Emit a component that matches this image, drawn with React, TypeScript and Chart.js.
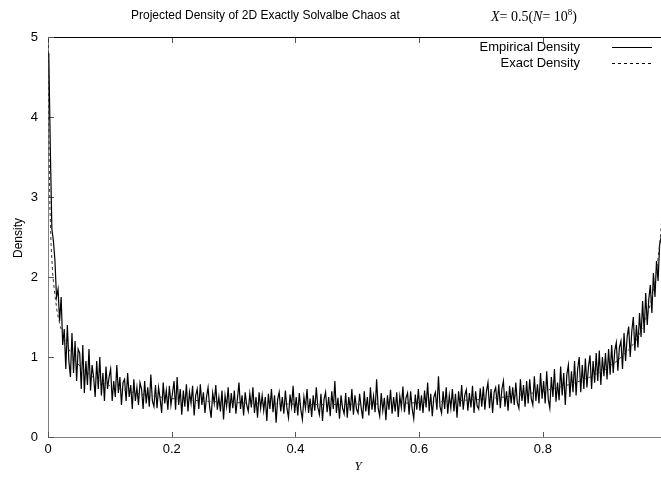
import { useEffect, useRef } from 'react';
import { Chart, registerables } from 'chart.js';

Chart.register(...registerables);

const SANS = '"Liberation Sans", Arial, Helvetica, sans-serif';
const SERIF = '"Liberation Serif", "Times New Roman", serif';

const TITLE_TEXT = 'Projected Density of 2D Exactly Solvalbe Chaos at';
const Y_TITLE = 'Density';
const X_TITLE = 'Y';
const LEGEND_LABELS = ['Empirical Density', 'Exact Density'];

const X_TICKS = [0, 0.2, 0.4, 0.6, 0.8];
const X_TICK_LABELS = ['0', '0.2', '0.4', '0.6', '0.8'];
const Y_TICKS = [0, 1, 2, 3, 4, 5];
const Y_TICK_LABELS = ['0', '1', '2', '3', '4', '5'];

const X_MIN = 0;
const X_MAX = 0.991;
const Y_MIN = 0;
const Y_MAX = 5;

// histogram bin width of the empirical density
const BIN_WIDTH = 0.0025;

const empiricalDensity = [
  4.8, 3.6, 2.6, 2.45, 2.2, 1.75, 1.85, 1.45, 1.75, 1.15,
  1.35, 0.85, 1.4, 0.95, 0.75, 1.3, 0.8, 1.2, 0.7, 1.1,
  1.05, 0.6, 1.15, 0.55, 0.95, 0.65, 1.1, 0.58, 0.9, 0.75,
  0.5, 0.95, 0.6, 1.0, 0.52, 0.8, 0.45, 0.88, 0.6, 0.75,
  0.85, 0.45, 0.7, 0.5, 0.9, 0.55, 0.75, 0.4, 0.68, 0.72,
  0.45, 0.8, 0.5, 0.65, 0.35, 0.72, 0.45, 0.62, 0.4, 0.68,
  0.6, 0.35, 0.7, 0.42, 0.62, 0.38, 0.78, 0.45, 0.38, 0.65,
  0.36, 0.62, 0.48, 0.3, 0.68, 0.42, 0.58, 0.34, 0.64, 0.4,
  0.55, 0.7, 0.34, 0.75, 0.4, 0.6, 0.28, 0.58, 0.38, 0.66,
  0.32, 0.56, 0.42, 0.64, 0.27, 0.52, 0.6, 0.35, 0.66, 0.4,
  0.56, 0.3, 0.5, 0.62, 0.38, 0.24, 0.55, 0.42, 0.65, 0.34,
  0.5, 0.32, 0.58, 0.22, 0.52, 0.38, 0.62, 0.3, 0.55, 0.36,
  0.58, 0.29, 0.48, 0.68, 0.35, 0.52, 0.27, 0.56, 0.4, 0.32,
  0.54, 0.37, 0.62, 0.3, 0.5, 0.24, 0.56, 0.36, 0.52, 0.33,
  0.5, 0.2, 0.54, 0.35, 0.6, 0.31, 0.52, 0.18, 0.47, 0.56,
  0.32, 0.5, 0.29, 0.58, 0.36, 0.24, 0.53, 0.38, 0.64, 0.3,
  0.5, 0.27, 0.55, 0.34, 0.22, 0.5, 0.36, 0.6, 0.3, 0.48,
  0.25, 0.52, 0.33, 0.62, 0.37, 0.28, 0.54, 0.2, 0.47, 0.56,
  0.31, 0.5, 0.26, 0.57, 0.35, 0.7, 0.3, 0.49, 0.23, 0.52,
  0.36, 0.29, 0.55, 0.24, 0.5, 0.33, 0.6, 0.28, 0.52, 0.35,
  0.3, 0.54, 0.37, 0.23, 0.57, 0.32, 0.5, 0.27, 0.62, 0.34,
  0.51, 0.31, 0.72, 0.36, 0.26, 0.55, 0.33, 0.49, 0.21, 0.52,
  0.34, 0.59, 0.29, 0.5, 0.32, 0.56, 0.25, 0.51, 0.37, 0.63,
  0.31, 0.49, 0.55, 0.28, 0.57, 0.35, 0.23, 0.53, 0.34, 0.6,
  0.33, 0.52, 0.3, 0.58, 0.37, 0.68, 0.32, 0.54, 0.26, 0.5,
  0.56, 0.34, 0.76, 0.38, 0.3, 0.57, 0.35, 0.62, 0.29, 0.52,
  0.36, 0.6, 0.32, 0.54, 0.24, 0.57, 0.38, 0.65, 0.34, 0.52,
  0.59, 0.33, 0.55, 0.37, 0.64, 0.3, 0.57, 0.39, 0.35, 0.61,
  0.38, 0.63, 0.34, 0.57, 0.68, 0.36, 0.6, 0.3, 0.56, 0.62,
  0.4, 0.66, 0.36, 0.6, 0.7, 0.38, 0.57, 0.33, 0.64, 0.42,
  0.62, 0.4, 0.68, 0.43, 0.36, 0.72, 0.45, 0.65, 0.38, 0.7,
  0.42, 0.72, 0.48, 0.4, 0.76, 0.45, 0.66, 0.42, 0.8, 0.48,
  0.7, 0.42, 0.82, 0.47, 0.36, 0.75, 0.5, 0.85, 0.44, 0.68,
  0.46, 0.88, 0.52, 0.8, 0.4, 0.78, 0.9, 0.5, 0.82, 0.56,
  0.95, 0.52, 0.85, 1.0, 0.56, 0.9, 0.6, 0.98, 0.62, 0.88,
  1.02, 0.6, 0.95, 0.68, 1.05, 0.7, 1.08, 0.65, 1.0, 0.76,
  1.05, 0.72, 1.1, 0.78, 1.15, 0.8, 1.08, 1.18, 0.83, 1.12,
  1.2, 0.85, 1.3, 0.95, 1.25, 1.38, 1.0, 1.32, 1.5, 1.08,
  1.4, 1.12, 1.55, 1.25, 1.7, 1.3, 1.8, 1.4, 1.72, 1.9,
  1.55, 2.05, 1.75, 2.2, 1.95, 2.4, 2.5,
];

const exactX = [
  0.0005, 0.001, 0.002, 0.003, 0.005, 0.0075, 0.01, 0.015, 0.02, 0.03,
  0.04, 0.05, 0.07, 0.1, 0.13, 0.16, 0.2, 0.25, 0.3, 0.35,
  0.4, 0.45, 0.5, 0.55, 0.6, 0.65, 0.7, 0.75, 0.8, 0.85,
  0.88, 0.9, 0.92, 0.94, 0.95, 0.96, 0.97, 0.975, 0.98, 0.985,
  0.99, 0.993,
];
const exactDensity = [
  5.2, 4.3, 3.4, 2.9, 2.4, 2.05, 1.85, 1.55, 1.38, 1.15,
  1.0, 0.9, 0.76, 0.64, 0.57, 0.52, 0.48, 0.45, 0.43, 0.42,
  0.41, 0.405, 0.41, 0.415, 0.43, 0.45, 0.47, 0.51, 0.57, 0.67,
  0.76, 0.84, 0.95, 1.1, 1.2, 1.35, 1.55, 1.7, 1.88, 2.15,
  2.5, 2.8,
];

type Run = { text: string; font: string; dy?: number };

function drawRuns(ctx: CanvasRenderingContext2D, x: number, y: number, runs: Run[]) {
  let cx = x;
  ctx.textAlign = 'left';
  ctx.textBaseline = 'alphabetic';
  for (const r of runs) {
    ctx.font = r.font;
    ctx.fillText(r.text, cx, y + (r.dy || 0));
    cx += ctx.measureText(r.text).width;
  }
}

const framePlugin = {
  id: 'gnuFrame',
  beforeDatasetsDraw(chart: any) {
    const { ctx, chartArea: a, scales } = chart;
    const xs = scales.x;
    const ys = scales.y;
    ctx.save();
    ctx.fillStyle = '#808080';
    ctx.fillRect(a.left, a.top, 1, a.bottom - a.top + 1);
    ctx.fillRect(a.left, a.bottom, a.right - a.left, 1);
    ctx.fillStyle = '#000';
    ctx.fillRect(a.left, a.top, a.right - a.left, 1);
    ctx.fillStyle = '#555';
    Y_TICKS.forEach((v) => {
      const py = Math.round(ys.getPixelForValue(v));
      ctx.fillRect(a.left, py, 6, 1);
    });
    X_TICKS.forEach((v) => {
      const px = Math.round(xs.getPixelForValue(v));
      ctx.fillRect(px, a.bottom - 5, 1, 5);
      ctx.fillRect(px, a.top + 1, 1, 5);
    });
    ctx.restore();
  },
  afterDraw(chart: any) {
    const { ctx } = chart;
    ctx.save();
    ctx.fillStyle = '#000';
    // title
    drawRuns(ctx, 131, 19, [{ text: TITLE_TEXT, font: `12px ${SANS}` }]);
    drawRuns(ctx, 491, 21, [
      { text: 'X', font: `italic 14px ${SERIF}` },
      { text: '= 0.5(', font: `14px ${SERIF}` },
      { text: 'N', font: `italic 14px ${SERIF}` },
      { text: '= 10', font: `14px ${SERIF}` },
      { text: '8', font: `9px ${SERIF}`, dy: -6 },
      { text: ')', font: `14px ${SERIF}` },
    ]);
    // legend
    ctx.font = `13px ${SANS}`;
    ctx.textAlign = 'right';
    ctx.textBaseline = 'middle';
    ctx.fillText(LEGEND_LABELS[0], 580, 47);
    ctx.fillText(LEGEND_LABELS[1], 580, 63);
    ctx.strokeStyle = '#000';
    ctx.lineWidth = 1;
    ctx.beginPath();
    ctx.moveTo(612, 47.5);
    ctx.lineTo(652, 47.5);
    ctx.stroke();
    ctx.setLineDash([3, 3]);
    ctx.beginPath();
    ctx.moveTo(612, 63.5);
    ctx.lineTo(652, 63.5);
    ctx.stroke();
    ctx.setLineDash([]);
    // axis titles
    ctx.save();
    ctx.translate(19, 238);
    ctx.rotate(-Math.PI / 2);
    ctx.font = `12px ${SANS}`;
    ctx.textAlign = 'center';
    ctx.textBaseline = 'middle';
    ctx.fillText(Y_TITLE, 0, 0);
    ctx.restore();
    ctx.font = `italic 13px ${SERIF}`;
    ctx.textAlign = 'center';
    ctx.textBaseline = 'middle';
    ctx.fillText(X_TITLE, 358, 467);
    ctx.restore();
  },
};

export default function App() {
  const canvasRef = useRef<HTMLCanvasElement | null>(null);

  useEffect(() => {
    if (!canvasRef.current) return;
    const empiricalPoints = empiricalDensity.map((v, i) => ({ x: (i + 0.5) * BIN_WIDTH, y: v }));
    const exactPoints = exactX.map((x, i) => ({ x, y: exactDensity[i] }));
    const chart = new Chart(canvasRef.current, {
      type: 'line',
      data: {
        datasets: [
          {
            label: LEGEND_LABELS[0],
            data: empiricalPoints,
            borderColor: '#000',
            borderWidth: 1.2,
            pointRadius: 0,
            tension: 0,
            fill: false,
            order: 1,
          },
          {
            label: LEGEND_LABELS[1],
            data: exactPoints,
            borderColor: '#333',
            borderWidth: 1,
            borderDash: [3, 3],
            pointRadius: 0,
            tension: 0,
            fill: false,
            order: 0,
          },
        ],
      },
      options: {
        responsive: false,
        animation: false,
        events: [],
        layout: { padding: { top: 37, left: 0, right: 0, bottom: 0 } },
        plugins: {
          legend: { display: false },
          title: { display: false },
          tooltip: { enabled: false },
        },
        scales: {
          x: {
            type: 'linear',
            min: X_MIN,
            max: X_MAX,
            grid: { display: false, drawTicks: false },
            border: { display: false },
            afterFit: (s: any) => {
              s.height = 42;
            },
            afterBuildTicks: (s: any) => {
              s.ticks = X_TICKS.map((v) => ({ value: v }));
            },
            ticks: {
              padding: 5,
              autoSkip: false,
              maxRotation: 0,
              color: '#000',
              font: { family: SANS, size: 13 },
              callback: (_v: any, i: number) => X_TICK_LABELS[i],
            },
          },
          y: {
            type: 'linear',
            min: Y_MIN,
            max: Y_MAX,
            grid: { display: false, drawTicks: false },
            border: { display: false },
            afterFit: (s: any) => {
              s.width = 48;
            },
            afterBuildTicks: (s: any) => {
              s.ticks = Y_TICKS.map((v) => ({ value: v }));
            },
            ticks: {
              padding: 10,
              autoSkip: false,
              color: '#000',
              font: { family: SANS, size: 13 },
              callback: (_v: any, i: number) => Y_TICK_LABELS[i],
            },
          },
        },
      },
      plugins: [framePlugin],
    });
    return () => chart.destroy();
  }, []);

  return (
    <div style={{ position: 'absolute', left: 0, top: 0, width: 661, height: 479, background: '#fff' }}>
      <canvas ref={canvasRef} width={661} height={479} style={{ display: 'block' }} />
    </div>
  );
}
